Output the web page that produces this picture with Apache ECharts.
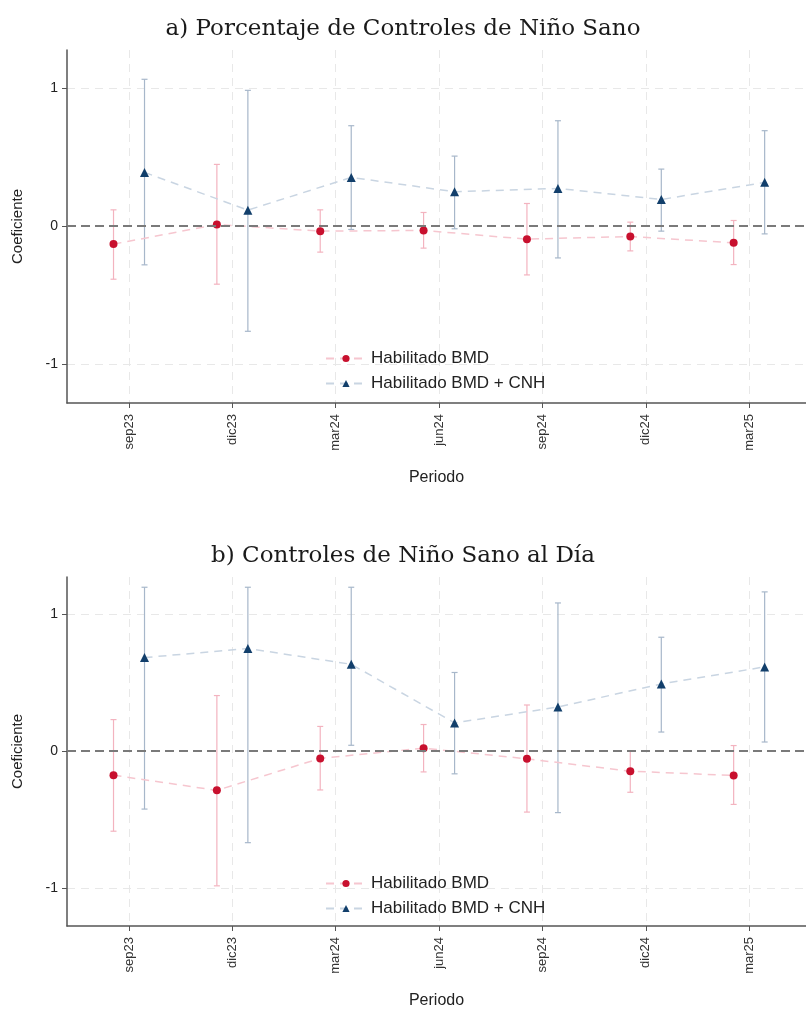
<!DOCTYPE html>
<html>
<head>
<meta charset="utf-8">
<script src="https://cdn.jsdelivr.net/npm/echarts@6/dist/echarts.min.js"></script>
<style>
  html, body { margin: 0; padding: 0; background: #ffffff; }
  #chart { width: 806px; height: 1010px; }
</style>
</head>
<body>
<div id="chart"></div>
<script>
// Quarters on the x axis and the y tick values
const periods = ['sep23', 'dic23', 'mar24', 'jun24', 'sep24', 'dic24', 'mar25'];
const yTicks = [-1, 0, 1];

// a) Porcentaje de Controles de Niño Sano — coefficients and 95% CIs
const bmdA     = [-0.130,  0.012, -0.036, -0.031, -0.094, -0.075, -0.121];
const bmdALow  = [-0.384, -0.420, -0.188, -0.159, -0.353, -0.179, -0.278];
const bmdAHigh = [ 0.118,  0.447,  0.118,  0.099,  0.164,  0.029,  0.041];
const cnhA     = [ 0.389,  0.116,  0.353,  0.249,  0.273,  0.193,  0.317];
const cnhALow  = [-0.280, -0.761, -0.024, -0.019, -0.230, -0.036, -0.056];
const cnhAHigh = [ 1.063,  0.983,  0.727,  0.507,  0.763,  0.413,  0.691];

// b) Controles de Niño Sano al Día — coefficients and 95% CIs
const bmdB     = [-0.176, -0.287, -0.053,  0.022, -0.056, -0.147, -0.178];
const bmdBLow  = [-0.586, -0.986, -0.284, -0.152, -0.446, -0.301, -0.390];
const bmdBHigh = [ 0.231,  0.407,  0.181,  0.195,  0.338,  0.002,  0.041];
const cnhB     = [ 0.685,  0.752,  0.636,  0.207,  0.323,  0.492,  0.617];
const cnhBLow  = [-0.424, -0.670,  0.043, -0.166, -0.450,  0.140,  0.067];
const cnhBHigh = [ 1.200,  1.200,  1.200,  0.576,  1.085,  0.834,  1.166];

const NAME_BMD = 'Habilitado BMD';
const NAME_CNH = 'Habilitado BMD + CNH';

// horizontal dodge so the two estimates of a quarter do not overlap
const DODGE = 0.15;

const RED = '#c8102e', RED_LIGHT = '#f3b3bf', RED_LINE = '#f6c6cf';
const BLUE = '#123f6b', BLUE_LIGHT = '#a7b7ca', BLUE_LINE = '#c9d5e2';
const SANS = 'Liberation Sans, Arial, sans-serif';

const panels = [
  { title: 'a) Porcentaje de Controles de Niño Sano', titleTop: 13, gridTop: 50, legendTop: 345,
    bmd: bmdA, bmdLow: bmdALow, bmdHigh: bmdAHigh, cnh: cnhA, cnhLow: cnhALow, cnhHigh: cnhAHigh },
  { title: 'b) Controles de Niño Sano al Día', titleTop: 540, gridTop: 577, legendTop: 870,
    bmd: bmdB, bmdLow: bmdBLow, bmdHigh: bmdBHigh, cnh: cnhB, cnhLow: cnhBLow, cnhHigh: cnhBHigh }
];

function pointsOf(values, shift) {
  return values.map((v, i) => [i + shift, v]);
}
function intervalsOf(low, high, shift) {
  return low.map((lo, i) => [i + shift, lo, high[i]]);
}

// vertical CI whiskers with small caps
function whiskers(color) {
  return function (params, api) {
    const x = api.value(0);
    const lo = api.coord([x, api.value(1)]);
    const hi = api.coord([x, api.value(2)]);
    const cap = 3;
    const style = { stroke: color, lineWidth: 1.2 };
    return {
      type: 'group',
      children: [
        { type: 'line', shape: { x1: lo[0], y1: lo[1], x2: hi[0], y2: hi[1] }, style },
        { type: 'line', shape: { x1: lo[0] - cap, y1: lo[1], x2: lo[0] + cap, y2: lo[1] }, style },
        { type: 'line', shape: { x1: hi[0] - cap, y1: hi[1], x2: hi[0] + cap, y2: hi[1] }, style }
      ]
    };
  };
}

const option = {
  backgroundColor: '#ffffff',
  animation: false,
  title: [], grid: [], xAxis: [], yAxis: [], legend: [], series: []
};

panels.forEach((p, k) => {
  option.title.push({
    text: p.title, left: 'center', top: p.titleTop,
    textStyle: { fontFamily: 'DejaVu Serif', fontWeight: 'normal', fontSize: 23, color: '#1a1a1a' }
  });
  option.grid.push({ left: 67, right: 0, top: p.gridTop, height: 353, containLabel: false });
  option.xAxis.push({
    type: 'value', gridIndex: k, min: -0.6, max: 6.55,
    name: 'Periodo', nameLocation: 'middle', nameGap: 67,
    nameTextStyle: { fontFamily: SANS, fontSize: 16, color: '#222' },
    axisLine: { show: true, onZero: false, lineStyle: { color: '#555', width: 1.5 } },
    axisTick: { show: true, length: 5, customValues: periods.map((_, i) => i), lineStyle: { color: '#555' } },
    axisLabel: {
      customValues: periods.map((_, i) => i), rotate: 90, margin: 11,
      fontFamily: SANS, fontSize: 13, color: '#333',
      formatter: v => periods[Math.round(v)]
    },
    splitLine: { show: true, lineStyle: { color: '#e8e8e8', type: [8, 6], width: 1 } }
  });
  option.yAxis.push({
    type: 'value', gridIndex: k, min: -1.28, max: 1.275,
    name: 'Coeficiente', nameLocation: 'middle', nameGap: 42, nameRotate: 90,
    nameTextStyle: { fontFamily: SANS, fontSize: 15, color: '#222' },
    axisLine: { show: true, onZero: false, lineStyle: { color: '#555', width: 1.5 } },
    axisTick: { show: true, length: 5, customValues: yTicks, lineStyle: { color: '#555' } },
    axisLabel: { customValues: yTicks, margin: 9, fontFamily: SANS, fontSize: 14, color: '#222' },
    splitLine: { show: true, lineStyle: { color: '#e8e8e8', type: [8, 6], width: 1 } }
  });
  option.legend.push({
    orient: 'vertical', left: 320, top: p.legendTop, itemWidth: 40, itemHeight: 9, itemGap: 8,
    data: [NAME_BMD, NAME_CNH],
    textStyle: { fontFamily: SANS, fontSize: 17, color: '#222' }
  });
  option.series.push(
    {
      type: 'custom', name: 'ci-bmd-' + k, xAxisIndex: k, yAxisIndex: k, z: 1, silent: true,
      renderItem: whiskers(RED_LIGHT), encode: { x: 0, y: [1, 2] },
      data: intervalsOf(p.bmdLow, p.bmdHigh, -DODGE)
    },
    {
      type: 'custom', name: 'ci-cnh-' + k, xAxisIndex: k, yAxisIndex: k, z: 1, silent: true,
      renderItem: whiskers(BLUE_LIGHT), encode: { x: 0, y: [1, 2] },
      data: intervalsOf(p.cnhLow, p.cnhHigh, DODGE)
    },
    {
      type: 'line', name: NAME_BMD, xAxisIndex: k, yAxisIndex: k, z: 3,
      symbol: 'circle', symbolSize: 8,
      itemStyle: { color: RED, borderWidth: 0 },
      lineStyle: { color: RED_LINE, type: [8, 6], width: 1.5 },
      data: pointsOf(p.bmd, -DODGE),
      markLine: {
        silent: true, symbol: 'none', label: { show: false },
        lineStyle: { color: '#7a7a7a', type: [9, 5], width: 2 },
        data: [{ yAxis: 0 }]
      }
    },
    {
      type: 'line', name: NAME_CNH, xAxisIndex: k, yAxisIndex: k, z: 3,
      symbol: 'triangle', symbolSize: 9,
      itemStyle: { color: BLUE, borderWidth: 0 },
      lineStyle: { color: BLUE_LINE, type: [8, 6], width: 1.5 },
      data: pointsOf(p.cnh, DODGE)
    }
  );
});

const chart = echarts.init(document.getElementById('chart'), null, { renderer: 'canvas' });
chart.setOption(option);
</script>
</body>
</html>
